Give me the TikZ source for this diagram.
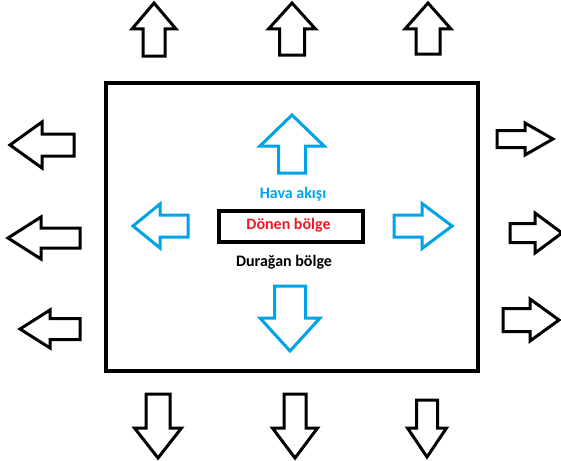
\documentclass[tikz,border=0pt]{standalone}
\usepackage{fontspec}
\setmainfont{Carlito}
\usetikzlibrary{positioning}

\definecolor{hava}{HTML}{00A2E8}
\definecolor{donen}{HTML}{ED1C24}

\begin{document}
\begin{tikzpicture}[
		x=1pt, y=-1pt,
		outer/.style = {draw, line width=4pt},
		zone/.style  = {draw, line width=4pt, minimum width=144pt, minimum height=31pt, inner sep=0pt},
		label/.style = {font=\fontsize{16}{19}\selectfont\bfseries, inner sep=0pt},
		black arrow/.style = {color=black, line width=3pt},
		blue arrow/.style  = {color=hava, line width=3pt},
		pics/blockarr/.style args={#1/#2/#3/#4}{code={
				\draw (0,0) -- (#1,#2) -- (#3,#2) -- (#3,#4) -- (-#3,#4) -- (-#3,#2) -- (-#1,#2) -- cycle;
		}}]
		
		\useasboundingbox (0,0) rectangle (561,460);
		
		% stationary zone, the big frame
		\draw[outer] (106,83) rectangle (477.5,370.5);
		
		% rotating zone and its labels
		\node[zone] (donen) at (291,226.5) {};
		\node[label, text=donen] (donenlbl) at (288.5,225) {Dönen bölge};
		\node[label, text=hava] (hava) at (293,194) {Hava akışı};
		\node[label] (duragan) at (284,262) {Durağan bölge};
		
		% blue arrows round the rotating zone
		\pic[blue arrow] at (292,115) {blockarr=32/31/13.5/58};
		\pic[blue arrow, rotate=180] at (290,351) {blockarr=30/33/15.5/65};
		\pic[blue arrow, rotate=90] at (133,226) {blockarr=22/27/11/55};
		\pic[blue arrow, rotate=-90] at (452,226) {blockarr=22.5/30/11/58};
		
		% black arrows, top row
		\foreach \tx/\ty/\h/\l/\s/\t in {154/3/22/26/11/53, 292/3/23.5/26/12.5/52, 428/3/23/26/12/51}
		\pic[black arrow] at (\tx,\ty) {blockarr=\h/\l/\s/\t};
		
		% black arrows, bottom row
		\foreach \tx/\ty/\h/\l/\s/\t in {158/458/23.5/30/12/64, 295/458/22.5/30/11/64, 427/457/19.5/29/10.5/57}
		\pic[black arrow, rotate=180] at (\tx,\ty) {blockarr=\h/\l/\s/\t};
		
		% black arrows, left side
		\foreach \tx/\ty/\h/\l/\s/\t in {10/145/23/32/11/64, 8/238/21/33/10/72, 20/329/19/30/10.5/60}
		\pic[black arrow, rotate=90] at (\tx,\ty) {blockarr=\h/\l/\s/\t};
		
		% black arrows, right side
		\foreach \tx/\ty/\h/\l/\s/\t in {553/139/16/28/8.5/56, 562/233/20/27/9.5/52, 559/320/21/29/11.5/56}
		\pic[black arrow, rotate=-90] at (\tx,\ty) {blockarr=\h/\l/\s/\t};
		
	\end{tikzpicture}
\end{document}
